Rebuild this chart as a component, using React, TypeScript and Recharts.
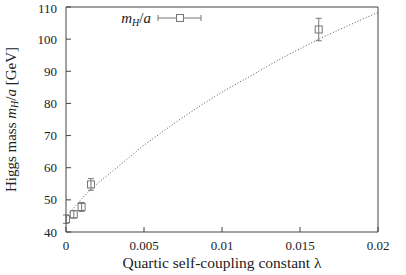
import React from 'react'
import { ComposedChart, Scatter, Line, XAxis, YAxis, ErrorBar, Legend, Label } from 'recharts'

// measured points: coupling lambda, mass m_H/a, error
const lambdas = [0, 0.0005, 0.001, 0.0016, 0.0162]
const masses = [44.0, 45.5, 47.8, 54.8, 103.0]
const errors = [1.3, 1.2, 1.4, 1.8, 3.5]

// dotted fit curve
const fitLambda = [0, 0.0005, 0.001, 0.0015, 0.002, 0.003, 0.004, 0.005, 0.006, 0.007, 0.008, 0.009, 0.01, 0.011, 0.012, 0.013, 0.014, 0.015, 0.016, 0.017, 0.018, 0.019, 0.02]
const fitMass = [44.5, 47.5, 50.3, 52.8, 55, 59, 63, 67, 70.5, 74, 77.3, 80.5, 83.5, 86.3, 89, 91.8, 94.5, 97, 99.5, 101.8, 104, 106.2, 108.3]

const xTicks = [0, 0.005, 0.01, 0.015, 0.02]
const yTicks = [40, 50, 60, 70, 80, 90, 100, 110]

const points = lambdas.map((l, i) => ({ lam: l, m: masses[i], err: errors[i] }))
const curve = fitLambda.map((l, i) => ({ lam: l, fit: fitMass[i] }))

const FONT = 'Liberation Serif'
const AXIS = '#444'
const MARK = '#777'
const TEXT = '#222'

const Square = (props: any) => {
  const { cx, cy } = props
  if (cx == null || cy == null) return null
  return <rect x={cx - 3.5} y={cy - 3.5} width={7} height={7} fill="none" stroke={MARK} strokeWidth={1} />
}

const LegendBox = () => (
  <svg width={110} height={18}>
    <text x={41} y={13} textAnchor="end" fontFamily={FONT} fontSize={15} fill={TEXT}>
      <tspan fontStyle="italic">m</tspan>
      <tspan fontStyle="italic" fontSize={10} dy={3}>H</tspan>
      <tspan dy={-3}>/</tspan>
      <tspan fontStyle="italic">a</tspan>
    </text>
    <line x1={48} y1={8} x2={91} y2={8} stroke={MARK} />
    <line x1={48} y1={5} x2={48} y2={11} stroke={MARK} />
    <line x1={91} y1={5} x2={91} y2={11} stroke={MARK} />
    <rect x={66.5} y={4.5} width={7} height={7} fill="#fff" stroke={MARK} />
  </svg>
)

const YLabel = (props: any) => {
  const { viewBox } = props
  const cy = viewBox.y + viewBox.height / 2
  const cx = 11
  return (
    <text x={cx} y={cy} transform={`rotate(-90, ${cx}, ${cy})`} textAnchor="middle" dominantBaseline="central" fontFamily={FONT} fontSize={15} fill={TEXT}>
      Higgs mass <tspan fontStyle="italic">m</tspan>
      <tspan fontStyle="italic" fontSize={10} dy={3}>H</tspan>
      <tspan dy={-3}>/</tspan>
      <tspan fontStyle="italic">a</tspan> [GeV]
    </text>
  )
}

const App = () => {
  return (
    <div style={{ position: 'absolute', left: 0, top: 0 }}>
      <ComposedChart width={406} height={275} margin={{ top: 6, right: 27, bottom: 0, left: 0 }}>
        <XAxis
          xAxisId={0}
          type="number"
          dataKey="lam"
          domain={[0, 0.02]}
          ticks={xTicks}
          height={43}
          tickSize={-5}
          tickMargin={14}
          stroke={AXIS}
          tick={{ fontFamily: FONT, fontSize: 13, fill: TEXT }}
          allowDataOverflow
        >
          <Label value="Quartic self-coupling constant λ" position="insideBottom" offset={7} fontFamily={FONT} fontSize={15.5} fill={TEXT} />
        </XAxis>
        <XAxis xAxisId="top" orientation="top" type="number" dataKey="lam" domain={[0, 0.02]} ticks={xTicks} height={1} tickSize={-5} tick={false} stroke={AXIS} allowDataOverflow />
        <YAxis
          yAxisId={0}
          type="number"
          domain={[40, 110]}
          ticks={yTicks}
          width={66}
          tickSize={-5}
          tickMargin={14}
          stroke={AXIS}
          tick={{ fontFamily: FONT, fontSize: 13, fill: TEXT }}
          allowDataOverflow
        >
          <Label content={<YLabel />} />
        </YAxis>
        <YAxis yAxisId="right" orientation="right" type="number" domain={[40, 110]} ticks={yTicks} width={1} tickSize={-5} tick={false} stroke={AXIS} allowDataOverflow />
        <Legend layout="horizontal" verticalAlign="middle" align="center" wrapperStyle={{ top: 10, left: 110, width: 110 }} content={() => <LegendBox />} />
        {/* invisible copy of the curve so the mirrored top/right axes get drawn */}
        <Line data={curve} dataKey="fit" xAxisId="top" yAxisId="right" stroke="none" dot={false} activeDot={false} isAnimationActive={false} legendType="none" />
        <Line data={curve} dataKey="fit" type="monotone" stroke="#555" strokeWidth={1} strokeDasharray="1 2" dot={false} isAnimationActive={false} legendType="none" />
        <Scatter data={points} dataKey="m" shape={<Square />} isAnimationActive={false}>
          <ErrorBar dataKey="err" direction="y" width={3} stroke={MARK} strokeWidth={1} />
        </Scatter>
      </ComposedChart>
    </div>
  )
}

export default App
